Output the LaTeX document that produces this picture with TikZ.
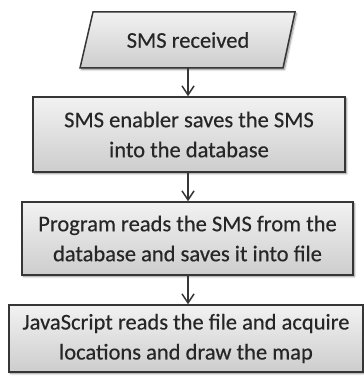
\documentclass[tikz,border=0pt]{standalone}
\usepackage{fontspec}
\setmainfont{Carlito}
\newfontfamily\boxfont{Carlito}[FakeBold=0.4]
\usetikzlibrary{arrows.meta,shadows.blur}
\definecolor{edge}{HTML}{363636}
\definecolor{txt}{HTML}{262626}
\definecolor{topc}{HTML}{F2F2F2}
\definecolor{botc}{HTML}{CDCDCD}
\tikzset{
  x=1pt,y=1pt,
  boxstyle/.style={draw=edge, line width=1.5pt, top color=topc, bottom color=botc,
    blur shadow={shadow blur steps=6, shadow xshift=1.5pt, shadow yshift=-1.5pt, shadow opacity=45},
    inner sep=0pt, align=center, text=txt, font=\boxfont\fontsize{22.5}{30}\selectfont},
  txtstyle/.style={inner sep=0pt, align=center, text=txt, font=\boxfont\fontsize{22.5}{30}\selectfont},
  flow/.style={draw=edge, line width=1.5pt, -{Straight Barb[length=9pt,width=12pt,line width=1.5pt]}}
}
\begin{document}
\begin{tikzpicture}
\useasboundingbox (0,0) rectangle (364,381);
% parallelogram
\coordinate (pBL) at (80,313);
\coordinate (pTL) at (93,369);
\coordinate (pTR) at (295,369);
\coordinate (pBR) at (283,313);
\path[draw=edge, line width=1.5pt, top color=topc, bottom color=botc,
  blur shadow={shadow blur steps=6, shadow xshift=1.5pt, shadow yshift=-1.5pt, shadow opacity=45}]
  (pBL) -- (pTL) -- (pTR) -- (pBR) -- cycle;
\node[txtstyle, minimum width=190, minimum height=56] (recv) at (188,341) {SMS received};
% boxes
\node[boxstyle, minimum width=312, minimum height=75] (b2) at (189,246.5)
  {SMS enabler saves the SMS\\into the database};
\node[boxstyle, minimum width=331, minimum height=73] (b3) at (187.5,142.5)
  {Program reads the SMS from the\\database and saves it into file};
\node[boxstyle, minimum width=354, minimum height=67] (b4) at (186,42.5)
  {JavaScript reads the file and acquire\\locations and draw the map};
% connectors
\draw[flow] (recv.south) -- (recv.south |- b2.north);
\draw[flow] (recv.south |- b2.south) -- (recv.south |- b3.north);
\draw[flow] (recv.south |- b3.south) -- (recv.south |- b4.north);
\end{tikzpicture}
\end{document}
